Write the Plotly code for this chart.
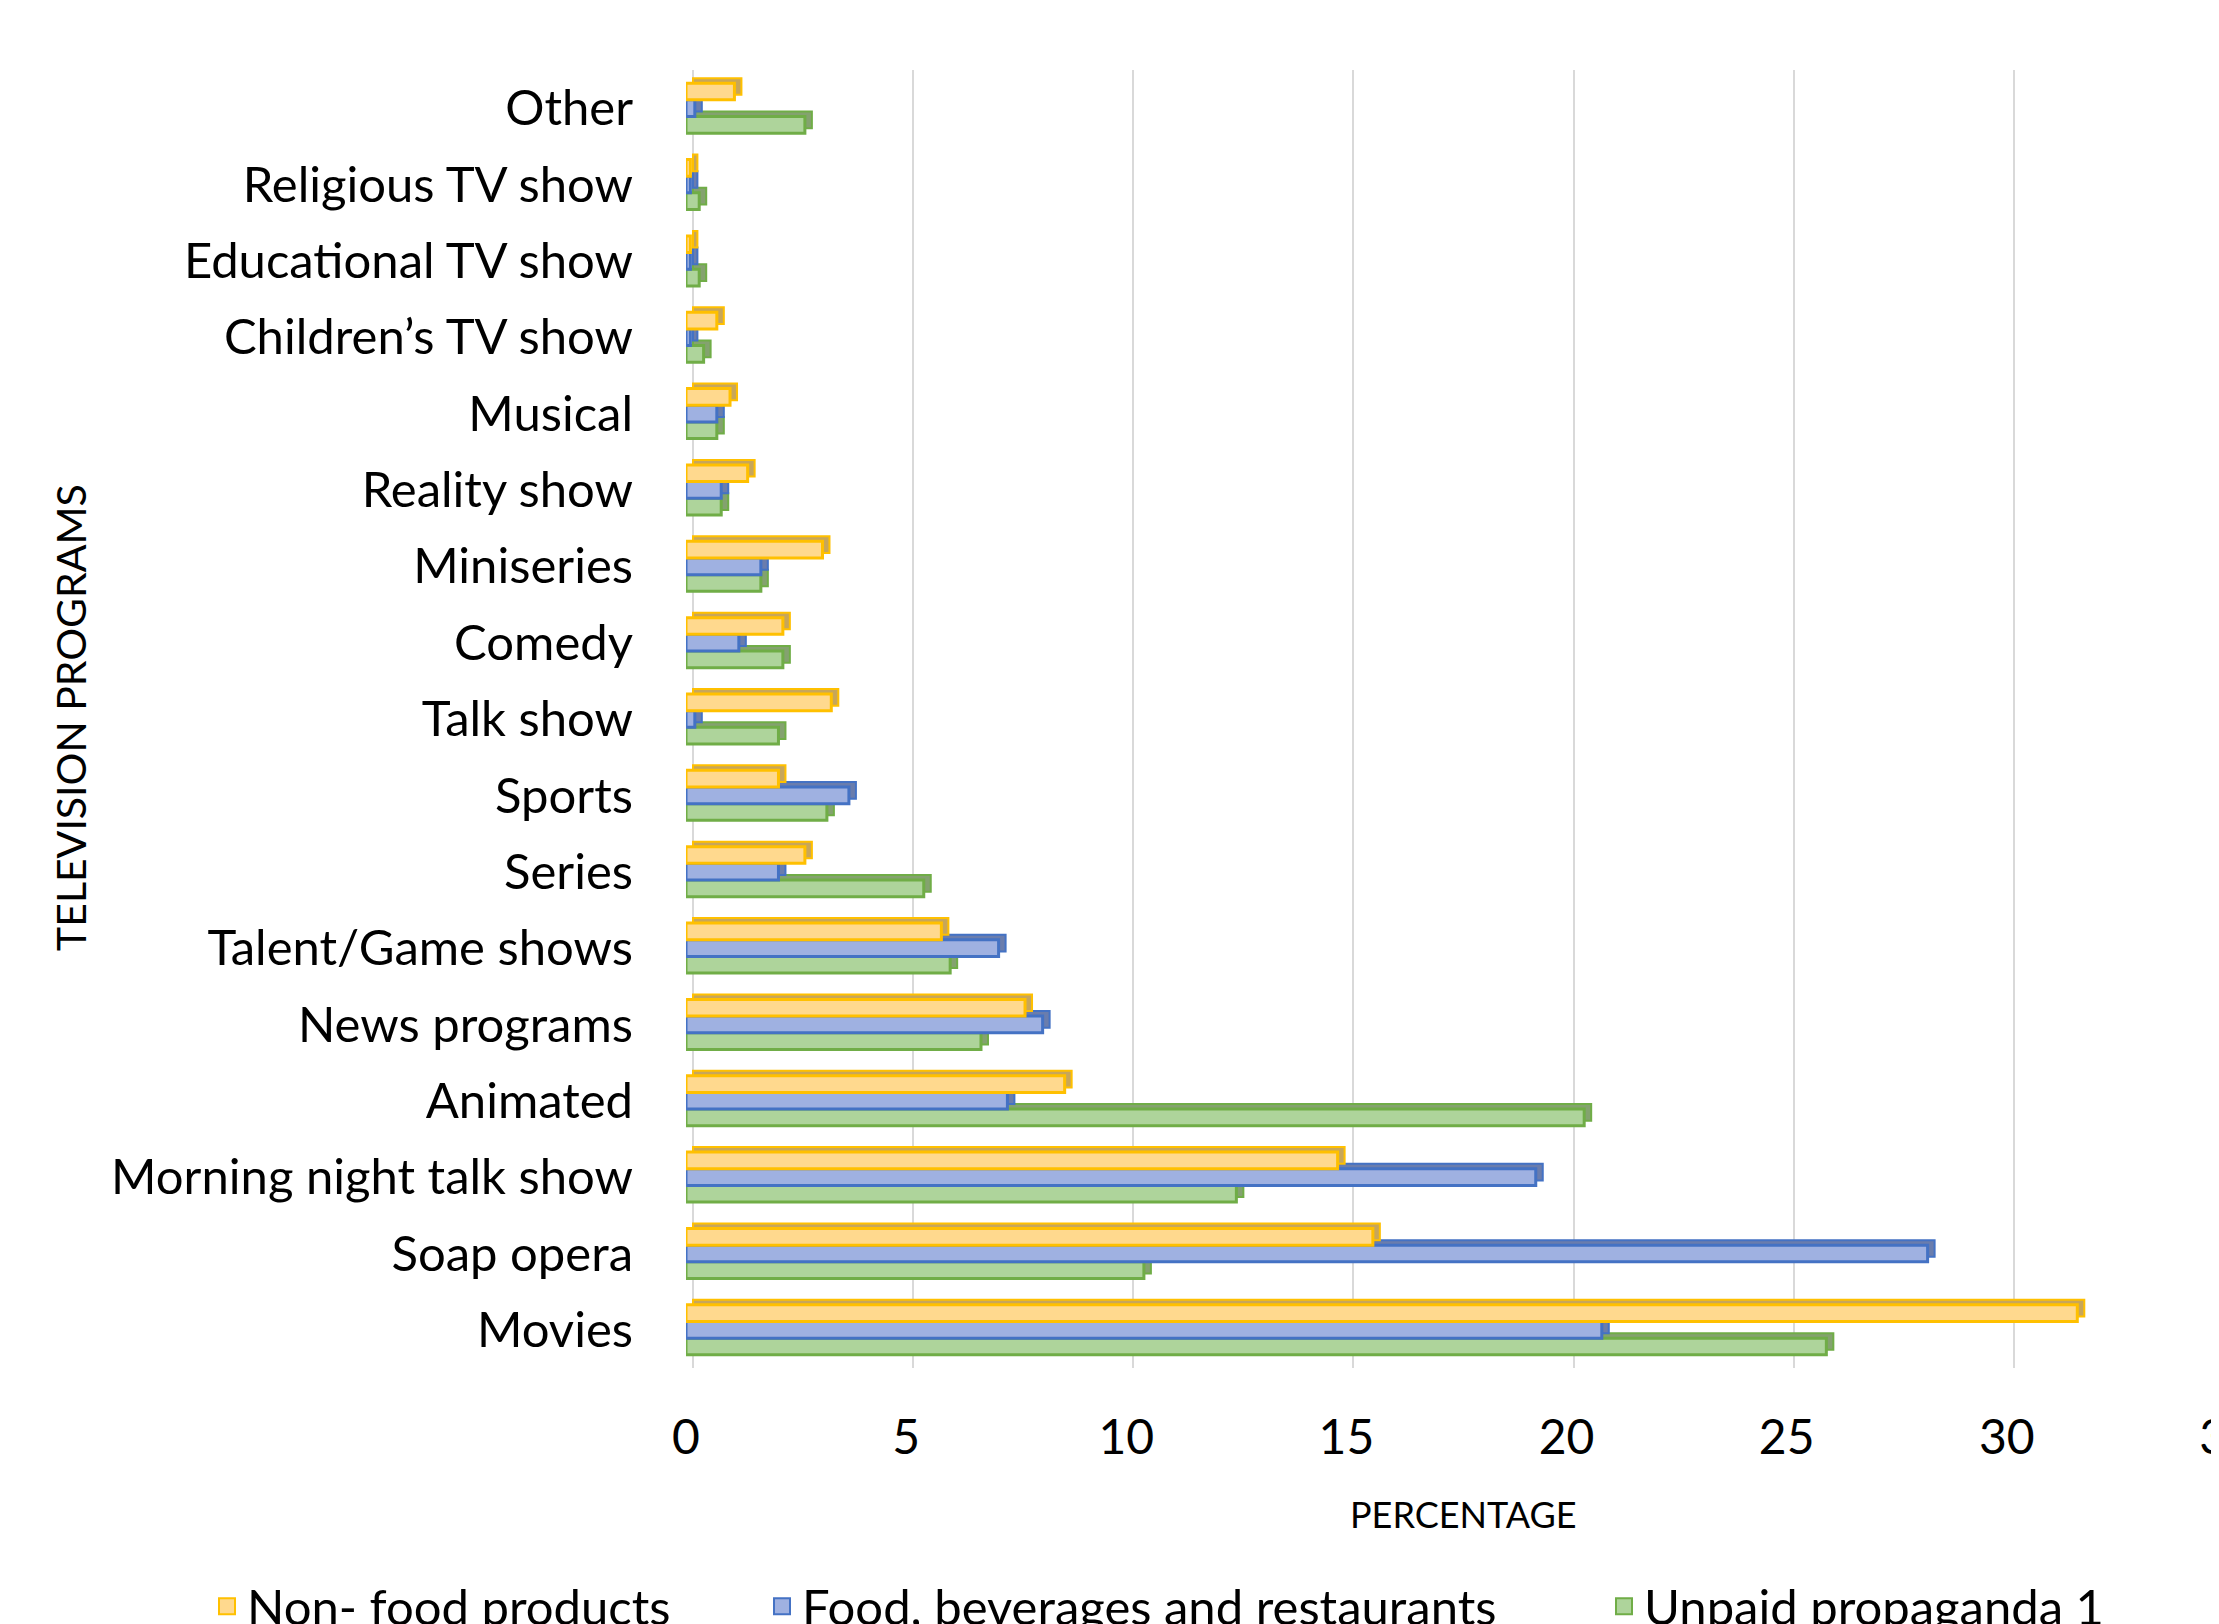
import plotly.graph_objects as go

# Categories listed bottom-to-top (as plotted)
categories = ["Movies", "Soap opera", "Morning night talk show", "Animated", "News programs",
              "Talent/Game shows", "Series", "Sports", "Talk show", "Comedy", "Miniseries",
              "Reality show", "Musical", "Children\u2019s TV show", "Educational TV show",
              "Religious TV show", "Other"]
non_food = [31.6, 15.6, 14.8, 8.6, 7.7, 5.8, 2.7, 2.1, 3.3, 2.2, 3.1, 1.4, 1.0, 0.7, 0.1, 0.1, 1.1]
food_bev = [20.8, 28.2, 19.3, 7.3, 8.1, 7.1, 2.1, 3.7, 0.2, 1.2, 1.7, 0.8, 0.7, 0.1, 0.1, 0.1, 0.2]
unpaid = [25.9, 10.4, 12.5, 20.4, 6.7, 6.0, 5.4, 3.2, 2.1, 2.2, 1.7, 0.8, 0.7, 0.4, 0.3, 0.3, 2.7]
x_ticks = [0, 5, 10, 15, 20, 25, 30, 35]

W, H = 2219, 1624
OFF = 8  # default HTML body margin
ML, MR, MT, MB = 678, 0, 62, 264
PW, PH = W - ML - MR, H - MT - MB
XMAX = 35


def px(page_x):
    return (page_x - OFF - ML) / PW


def py(page_y):
    return ((H - MB) - (page_y - OFF)) / PH


series = [  # bottom-to-top within each group; legend text left edge (page px)
    ("Unpaid propaganda 1", unpaid, "#AED49B", "#70AD47", "#84A26F", "legend3", 1646),
    ("Food, beverages and restaurants", food_bev, "#9FB1E1", "#4472C4", "#6A7DAD", "legend2", 804),
    ("Non- food products", non_food, "#FFD98E", "#FFC000", "#C7A65A", "legend", 249),
]

px_per_x = PW / XMAX
px_per_cat = PH / len(categories)
dx = 7 / px_per_x      # depth offset to the right
dy = 5 / px_per_cat    # depth offset upward

fig = go.Figure()
FONT = "Lato"

# depth (3D) faces, on base axes shifted
for name, vals, fill, line, dark, lg, lx in series:
    fig.add_trace(go.Bar(y=categories, x=vals, orientation="h", name=name,
                         marker=dict(color=dark, line=dict(color=line, width=2)),
                         showlegend=False, hoverinfo="skip", xaxis="x", yaxis="y"))
# front faces
for name, vals, fill, line, dark, lg, lx in series:
    fig.add_trace(go.Bar(y=categories, x=vals, orientation="h", name=name,
                         marker=dict(color=fill, line=dict(color=line, width=3)),
                         xaxis="x2", yaxis="y2", showlegend=False))
# legend entries with larger square swatches
for name, vals, fill, line, dark, lg, lx in series:
    fig.add_trace(go.Scatter(x=[None], y=[None], mode="markers", name=name,
                             marker=dict(symbol="square", size=16, color=fill,
                                         line=dict(color=line, width=2)),
                             xaxis="x2", yaxis="y2", legend=lg, hoverinfo="skip"))

legend_common = dict(orientation="h", xref="container", yref="container",
                     xanchor="left", y=1 - (1568 - OFF) / H, yanchor="top",
                     font=dict(size=49, family=FONT), bgcolor="rgba(0,0,0,0)",
                     itemsizing="trace")
legends = {}
for name, vals, fill, line, dark, lg, lx in series:
    legends[lg] = dict(legend_common, x=(lx - 42 - OFF) / W)

fig.update_layout(
    width=W, height=H,
    margin=dict(l=ML, r=MR, t=MT, b=MB, autoexpand=False),
    paper_bgcolor="white", plot_bgcolor="white",
    barmode="group", bargap=0.345, bargroupgap=0,
    font=dict(family=FONT, color="black"),
    xaxis=dict(range=[-dx, XMAX - dx], showgrid=True, gridcolor="#D9D9D9", gridwidth=2,
               tickvals=x_ticks, showticklabels=False, zeroline=False, ticks="",
               showline=False, automargin=False),
    yaxis=dict(range=[-0.5 - dy, len(categories) - 0.5 - dy], type="category",
               categoryorder="array", categoryarray=categories, automargin=False,
               showgrid=False, showticklabels=False, ticks="", showline=False),
    xaxis2=dict(overlaying="x", anchor="y2", range=[0, XMAX], tickvals=x_ticks,
                showgrid=False, zeroline=False, ticks="", showline=False, automargin=False,
                tickfont=dict(size=48, family=FONT), ticklabelstandoff=37,
                ticklabeloverflow="allow"),
    yaxis2=dict(overlaying="y", anchor="x2", range=[-0.5, len(categories) - 0.5],
                type="category", categoryorder="array", categoryarray=categories,
                showgrid=False, ticks="", showline=False, automargin=False,
                tickfont=dict(size=49, family=FONT), ticklabelstandoff=52),
    annotations=[
        dict(text="PERCENTAGE", xref="paper", yref="paper",
             x=px(1463), y=py(1514),
             showarrow=False, font=dict(size=36, family=FONT), xanchor="center", yanchor="middle"),
        dict(text="TELEVISION PROGRAMS", xref="paper", yref="paper",
             x=px(70), y=py(718),
             showarrow=False, textangle=-90, font=dict(size=41, family=FONT),
             xanchor="center", yanchor="middle"),
        dict(text="<b>Mexican TV</b>", xref="paper", yref="paper",
             x=px(1146), y=py(22),
             showarrow=False, font=dict(size=58, family=FONT),
             xanchor="center", yanchor="bottom"),
    ],
    **legends,
)

fig.write_html("out.html")
